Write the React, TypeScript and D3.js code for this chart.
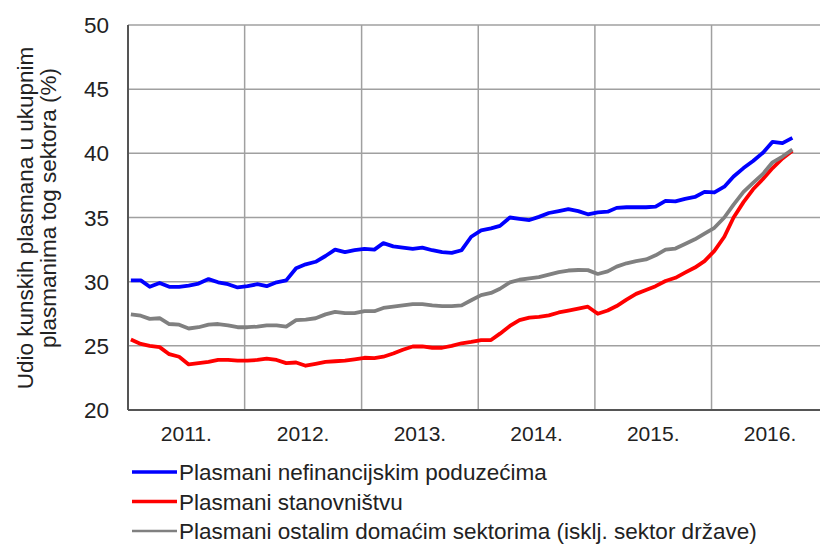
import * as d3 from "d3";
import { useEffect, useRef } from "react";

// monthly shares (%), Jan 2011 onwards
const corporates = [
  30.1, 30.1, 29.6, 29.9, 29.6, 29.6, 29.7, 29.85, 30.2, 29.95, 29.8, 29.55,
  29.65, 29.8, 29.65, 29.95, 30.1, 31.05, 31.35, 31.55, 32.0, 32.5, 32.3, 32.45,
  32.55, 32.5, 33.0, 32.75, 32.65, 32.55, 32.65, 32.45, 32.3, 32.25, 32.45, 33.5,
  34.0, 34.15, 34.35, 35.0, 34.9, 34.8, 35.05, 35.35, 35.5, 35.65, 35.5, 35.25,
  35.4, 35.45, 35.75, 35.8, 35.8, 35.8, 35.85, 36.3, 36.25, 36.45, 36.6, 37.0,
  36.95, 37.4, 38.2, 38.85, 39.4, 40.05, 40.9, 40.8, 41.2,
];
const households = [
  25.5, 25.15, 25.0, 24.9, 24.35, 24.15, 23.55, 23.65, 23.75, 23.9, 23.9, 23.85,
  23.85, 23.9, 24.0, 23.9, 23.65, 23.7, 23.45, 23.6, 23.75, 23.8, 23.85, 23.95,
  24.07, 24.05, 24.15, 24.4, 24.7, 24.95, 24.95, 24.85, 24.85, 25.0, 25.2, 25.3,
  25.45, 25.45, 25.95, 26.55, 27.0, 27.2, 27.25, 27.37, 27.6, 27.75, 27.9, 28.05,
  27.5, 27.75, 28.1, 28.6, 29.05, 29.35, 29.65, 30.05, 30.3, 30.7, 31.1, 31.6,
  32.4, 33.5, 35.0, 36.2, 37.2, 38.0, 38.85, 39.6, 40.2,
];
const otherSectors = [
  27.45, 27.35, 27.1, 27.15, 26.7, 26.65, 26.35, 26.45, 26.65, 26.7, 26.6, 26.45,
  26.45, 26.5, 26.6, 26.6, 26.5, 27.0, 27.05, 27.15, 27.45, 27.65, 27.55, 27.55,
  27.7, 27.7, 27.95, 28.05, 28.15, 28.25, 28.25, 28.15, 28.1, 28.1, 28.15, 28.55,
  28.95, 29.12, 29.45, 29.95, 30.15, 30.25, 30.35, 30.55, 30.75, 30.87, 30.91, 30.9,
  30.6, 30.8, 31.17, 31.43, 31.6, 31.73, 32.05, 32.5, 32.58, 32.93, 33.3, 33.75,
  34.2, 35.0, 36.0, 37.0, 37.7, 38.4, 39.3, 39.75, 40.3,
];
const years = [2011, 2012, 2013, 2014, 2015, 2016];
const yTicks = [20, 25, 30, 35, 40, 45, 50];
const seriesNames = [
  "Plasmani nefinancijskim poduzećima",
  "Plasmani stanovništvu",
  "Plasmani ostalim domaćim sektorima (isklj. sektor države)",
];
const yTitle = ["Udio kunskih plasmana u ukupnim", "plasmanima tog sektora (%)"];

const App = () => {
  const ref = useRef<SVGSVGElement>(null);

  useEffect(() => {
    const svg = d3.select(ref.current);
    svg.selectAll("*").remove();

    const left = 128, top = 25, bottom = 410, right = 828.5;
    const font = "Liberation Sans, Arial, sans-serif";

    const x = d3.scaleTime()
      .domain([new Date(2011, 0, 1), new Date(2017, 0, 1)])
      .range([left, right]);
    const y = d3.scaleLinear().domain([20, 50]).range([bottom, top]);

    // grid
    svg.append("g").selectAll("line").data(yTicks.slice(1)).join("line")
      .attr("x1", left).attr("x2", 820)
      .attr("y1", d => y(d)).attr("y2", d => y(d))
      .attr("stroke", "#a0a0a0").attr("stroke-width", 1.5);
    svg.append("g").selectAll("line").data(years.slice(1)).join("line")
      .attr("x1", d => x(new Date(d, 0, 1))).attr("x2", d => x(new Date(d, 0, 1)))
      .attr("y1", top).attr("y2", bottom)
      .attr("stroke", "#a0a0a0").attr("stroke-width", 1.5);

    // axis lines
    svg.append("line").attr("x1", left).attr("x2", left).attr("y1", top).attr("y2", bottom)
      .attr("stroke", "#555").attr("stroke-width", 2);
    svg.append("line").attr("x1", left).attr("x2", 820).attr("y1", bottom).attr("y2", bottom)
      .attr("stroke", "#555").attr("stroke-width", 2);

    // y labels
    svg.append("g").selectAll("text").data(yTicks).join("text")
      .attr("x", 109).attr("y", d => y(d) + 8)
      .attr("text-anchor", "end")
      .style("font", `22.5px ${font}`).attr("fill", "#222")
      .text(d => d);

    // x labels
    svg.append("g").selectAll("text").data(years).join("text")
      .attr("x", d => (x(new Date(d, 0, 1)) + x(new Date(d + 1, 0, 1))) / 2)
      .attr("y", 441)
      .attr("text-anchor", "middle")
      .style("font", `21px ${font}`).attr("fill", "#222")
      .text(d => `${d}.`);

    // y title
    svg.append("g").selectAll("text").data(yTitle).join("text")
      .attr("transform", (d, i) => `translate(${33 + i * 23}, ${218 - i * 10}) rotate(-90)`)
      .attr("text-anchor", "middle")
      .style("font", `22.5px ${font}`).attr("fill", "#222")
      .text(d => d);

    // lines
    const colors = ["#0000ff", "#ff0000", "#808080"];
    const data = [corporates, households, otherSectors];
    const line = d3.line<number>()
      .x((d, i) => x(new Date(2011, i, 10)))
      .y(d => y(d));
    // red first, then grey, then blue on top
    [1, 2, 0].forEach(k => {
      svg.append("path")
        .datum(data[k])
        .attr("fill", "none")
        .attr("stroke", colors[k])
        .attr("stroke-width", 3.8)
        .attr("stroke-linejoin", "round")
        .attr("d", line);
    });

    // legend
    const lg = svg.append("g").selectAll("g").data(seriesNames).join("g")
      .attr("transform", (d, i) => `translate(0, ${472 + i * 29.5})`);
    lg.append("line")
      .attr("x1", 132).attr("x2", 177).attr("y1", 0).attr("y2", 0)
      .attr("stroke", (d, i) => colors[i])
      .attr("stroke-width", (d, i) => (i === 2 ? 2.5 : 3.5));
    lg.append("text")
      .attr("x", 179).attr("y", 8)
      .style("font", `22.5px ${font}`).attr("fill", "#222")
      .text(d => d);
  }, []);

  return (
    <svg
      ref={ref}
      width={820}
      height={545}
      style={{ position: "absolute", left: 0, top: 0, background: "#fff" }}
    />
  );
};

export default App;
